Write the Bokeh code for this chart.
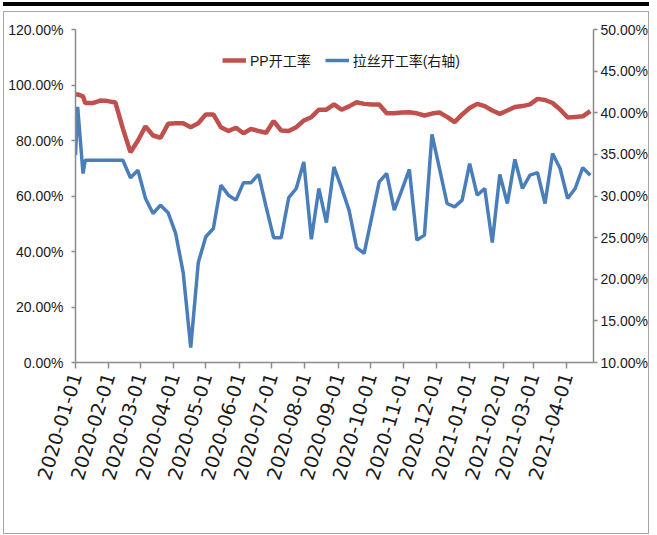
import math
import pandas as pd
from bokeh.plotting import figure
from bokeh.models import (Range1d, LinearAxis, FixedTicker, PrintfTickFormatter,
                          DatetimeTickFormatter, Legend, LegendItem)
from bokeh.embed import file_html
from bokeh.resources import INLINE

# ---------------- data ----------------
dates = ["2020-01-01", "2020-01-03", "2020-01-08", "2020-01-10", "2020-01-17", "2020-01-24",
         "2020-01-31", "2020-02-07", "2020-02-14", "2020-02-21", "2020-02-28", "2020-03-06",
         "2020-03-13", "2020-03-20", "2020-03-27", "2020-04-03", "2020-04-10", "2020-04-17",
         "2020-04-24", "2020-05-01", "2020-05-08", "2020-05-15", "2020-05-22", "2020-05-29",
         "2020-06-05", "2020-06-12", "2020-06-19", "2020-06-26", "2020-07-03", "2020-07-10",
         "2020-07-17", "2020-07-24", "2020-07-31", "2020-08-07", "2020-08-14", "2020-08-21",
         "2020-08-28", "2020-09-04", "2020-09-11", "2020-09-18", "2020-09-25", "2020-10-02",
         "2020-10-09", "2020-10-16", "2020-10-23", "2020-10-30", "2020-11-06", "2020-11-13",
         "2020-11-20", "2020-11-27", "2020-12-04", "2020-12-11", "2020-12-18", "2020-12-25",
         "2021-01-01", "2021-01-08", "2021-01-15", "2021-01-22", "2021-01-29", "2021-02-05",
         "2021-02-12", "2021-02-19", "2021-02-26", "2021-03-05", "2021-03-12", "2021-03-19",
         "2021-03-26", "2021-04-02", "2021-04-09", "2021-04-16", "2021-04-23"]

pp_rate = [96.6, 96.6, 95.9, 93.5, 93.5, 94.4, 94.2, 93.7, 84.3, 75.8, 80.0, 85.1,
           81.8, 81.0, 86.0, 86.2, 86.2, 84.8, 86.2, 89.4, 89.4, 84.8, 83.4, 84.6,
           82.6, 84.2, 83.4, 82.8, 87.0, 83.6, 83.4, 84.8, 87.2, 88.4, 91.1, 91.1,
           93.0, 91.1, 92.3, 93.8, 93.2, 93.0, 93.0, 89.8, 89.8, 90.1, 90.2, 89.8,
           89.0, 89.7, 90.1, 88.5, 86.6, 89.4, 91.7, 93.2, 92.4, 90.8, 89.6, 90.8,
           92.1, 92.4, 93.0, 95.0, 94.6, 93.5, 91.2, 88.3, 88.5, 88.7, 90.6]

lasi_rate = [34.9, 40.7, 32.7, 34.3, 34.3, 34.3, 34.3, 34.3, 34.3, 32.2, 33.1, 29.7,
             27.9, 28.9, 28.0, 25.5, 20.8, 11.8, 22.0, 25.1, 26.1, 31.3, 30.1, 29.5,
             31.6, 31.6, 32.6, 28.7, 25.0, 25.0, 29.8, 30.9, 34.1, 24.8, 30.9, 26.8,
             33.5, 31.0, 28.3, 23.8, 23.1, 27.4, 31.7, 32.7, 28.3, 30.7, 33.2, 24.7,
             25.3, 37.4, 33.3, 29.1, 28.7, 29.5, 33.9, 30.1, 30.9, 24.4, 32.6, 29.1,
             34.4, 30.9, 32.5, 32.8, 29.1, 35.1, 33.3, 29.7, 30.9, 33.4, 32.5]

month_ticks = ["2020-01-01", "2020-02-01", "2020-03-01", "2020-04-01", "2020-05-01",
               "2020-06-01", "2020-07-01", "2020-08-01", "2020-09-01", "2020-10-01",
               "2020-11-01", "2020-12-01", "2021-01-01", "2021-02-01", "2021-03-01",
               "2021-04-01"]
left_ticks = [0, 20, 40, 60, 80, 100, 120]
right_ticks = [10, 15, 20, 25, 30, 35, 40, 45, 50]

series_names = ["PP开工率", "拉丝开工率(右轴)"]

# ---------------- figure ----------------
FONT = "Liberation Sans, Noto Sans CJK SC"
AXIS_COLOR = "#8c8c8c"
TEXT_COLOR = "#1a1a1a"

x = pd.to_datetime(dates)
x_start = pd.Timestamp("2020-01-01")
x_end = pd.Timestamp("2021-04-26")

p = figure(width=646, height=523, x_axis_type="datetime",
           x_range=Range1d(x_start, x_end), y_range=Range1d(0, 120),
           output_backend="svg", toolbar_location=None,
           min_border_left=71, min_border_right=56, min_border_top=17,
           min_border_bottom=173)
p.styles = {"border": "1px solid #a6a6a6", "margin-left": "3px", "margin-top": "11px",
            "box-shadow": "0 -5px 0 0 #ffffff, 0 -9px 0 0 #000000"}
p.extra_y_ranges = {"right": Range1d(10, 50)}
p.outline_line_color = None
p.xgrid.visible = False
p.ygrid.visible = False

red = p.line(x, pp_rate, line_color="#C0504D", line_width=4.5)
blue = p.line(x, lasi_rate, y_range_name="right", line_color="#4A7EBB", line_width=3.5)

# left axis
ya = p.yaxis[0]
ya.ticker = FixedTicker(ticks=left_ticks)
ya.formatter = PrintfTickFormatter(format="%.2f%%")

# right axis
ra = LinearAxis(y_range_name="right", ticker=FixedTicker(ticks=right_ticks),
                formatter=PrintfTickFormatter(format="%.2f%%"))
p.add_layout(ra, "right")

# bottom axis
xa = p.xaxis[0]
xa.ticker = FixedTicker(ticks=[pd.Timestamp(d).value // 10**6 for d in month_ticks])
fmt = "%Y-%m-%d"
xa.formatter = DatetimeTickFormatter(milliseconds=fmt, seconds=fmt, minsec=fmt, minutes=fmt,
                                     hourmin=fmt, hours=fmt, days=fmt, months=fmt, years=fmt)
xa.major_label_orientation = math.radians(73)

for ax in (ya, ra, xa):
    ax.axis_line_color = AXIS_COLOR
    ax.axis_line_width = 1.5
    ax.major_tick_line_color = AXIS_COLOR
    ax.major_tick_line_width = 1.5
    ax.minor_tick_line_color = None
    ax.major_tick_in = 0
    ax.major_tick_out = 4
    ax.major_label_text_font = FONT
    ax.major_label_text_font_size = "14px"
    ax.major_label_text_color = TEXT_COLOR

ya.major_label_standoff = 8
ra.major_label_standoff = 3
xa.major_tick_out = 6
xa.major_label_standoff = 5
xa.major_label_text_font = "DejaVu Sans"
xa.major_label_text_font_size = "19px"

legend = Legend(items=[LegendItem(label=series_names[0], renderers=[red]),
                       LegendItem(label=series_names[1], renderers=[blue])],
                orientation="horizontal", location=(147, 292),
                border_line_color=None, background_fill_alpha=0,
                padding=0, margin=0, spacing=14, glyph_width=24, glyph_height=20,
                label_standoff=4, label_text_font=FONT, label_text_font_size="14px",
                label_text_color=TEXT_COLOR)
p.add_layout(legend)

open("out.html", "w").write(file_html(p, INLINE))
